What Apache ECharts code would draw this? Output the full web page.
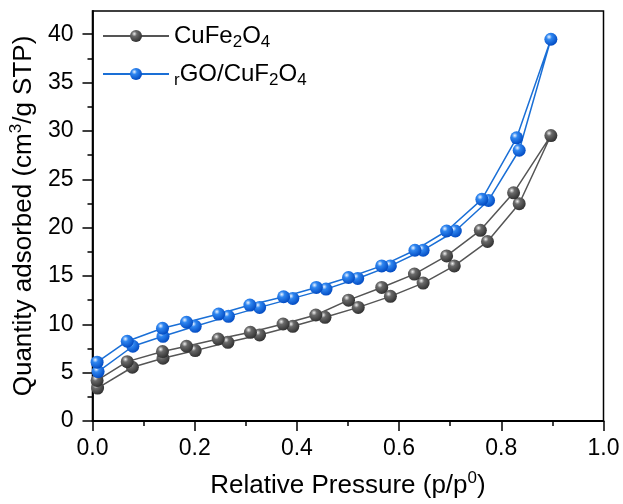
<!DOCTYPE html>
<html>
<head>
<meta charset="utf-8">
<script src="https://cdn.jsdelivr.net/npm/echarts@6/dist/echarts.min.js"></script>
<style>
  html, body { margin: 0; padding: 0; background: #fff; }
  #chart { width: 623px; height: 504px; }
</style>
</head>
<body>
<div id="chart"></div>
<script>
// relative pressure (p/p0) and quantity adsorbed (cm3/g STP)
const cuFeAdsP = [0.010, 0.078, 0.138, 0.201, 0.265, 0.327, 0.392, 0.455, 0.520, 0.583, 0.647, 0.708, 0.773, 0.835, 0.897];
const cuFeAdsQ = [3.40, 5.56, 6.49, 7.28, 8.14, 8.90, 9.79, 10.72, 11.75, 12.89, 14.26, 16.04, 18.56, 22.47, 29.52];
const cuFeDesP = [0.897, 0.824, 0.759, 0.693, 0.630, 0.566, 0.501, 0.437, 0.373, 0.309, 0.246, 0.184, 0.137, 0.068, 0.009];
const cuFeDesQ = [29.52, 23.60, 19.72, 17.07, 15.19, 13.81, 12.50, 10.96, 10.03, 9.17, 8.48, 7.73, 7.18, 6.14, 4.19];

const rgoAdsP = [0.011, 0.079, 0.138, 0.201, 0.266, 0.327, 0.392, 0.457, 0.519, 0.583, 0.647, 0.710, 0.775, 0.835, 0.897];
const rgoAdsQ = [5.11, 7.73, 8.76, 9.79, 10.82, 11.75, 12.68, 13.64, 14.74, 16.04, 17.66, 19.65, 22.81, 28.00, 39.48];
const rgoDesP = [0.897, 0.830, 0.762, 0.693, 0.631, 0.566, 0.501, 0.438, 0.374, 0.308, 0.247, 0.184, 0.137, 0.068, 0.009];
const rgoDesQ = [39.48, 29.28, 22.92, 19.65, 17.66, 16.04, 14.84, 13.81, 12.85, 11.99, 11.06, 10.21, 9.59, 8.25, 6.08];

const seriesNames = ["CuFe2O4", "rGO/CuF2O4"];
const yMajorTicks = [0, 5, 10, 15, 20, 25, 30, 35, 40];
const yMinorTicks = [2.5, 7.5, 12.5, 17.5, 22.5, 27.5, 32.5, 37.5];

const FONT = "Liberation Sans";

function loop(adsP, adsQ, desP, desQ) {
  let pts = [];
  adsP.forEach((p, i) => pts.push([p, adsQ[i]]));
  // desorption starts at the shared top point
  desP.slice(1).forEach((p, i) => pts.push([p, desQ[i + 1]]));
  return pts;
}

function ball(stops) {
  return {
    type: "radial", x: 0.36, y: 0.32, r: 0.72,
    colorStops: [
      { offset: 0, color: stops[0] },
      { offset: 0.3, color: stops[1] },
      { offset: 1, color: stops[2] },
    ],
  };
}

const legendText = {
  "CuFe2O4": "{n|CuFe}{s|2}{n|O}{s|4}",
  "rGO/CuF2O4": "{s|r}{n|GO/CuF}{s|2}{n|O}{s|4}",
};

let myChart = echarts.init(document.getElementById("chart"), null, { renderer: "canvas" });

let option = {
  animation: false,
  backgroundColor: "#fff",
  grid: {
    left: 92,
    right: 19.5,
    top: 11,
    bottom: 81.7,
    show: true,
    borderColor: "#000",
    borderWidth: 1.5,
  },
  legend: {
    data: seriesNames,
    orient: "vertical",
    left: 97,
    top: 19,
    itemWidth: 66,
    itemHeight: 15,
    itemGap: 11,
    formatter: (name) => legendText[name],
    textStyle: {
      color: "#000",
      fontFamily: FONT,
      rich: {
        n: { fontSize: 24, lineHeight: 30, fontFamily: FONT, color: "#000" },
        s: { fontSize: 17, lineHeight: 14, verticalAlign: "bottom", fontFamily: FONT, color: "#000" },
      },
    },
  },
  xAxis: {
    type: "value",
    min: 0,
    max: 1,
    interval: 0.2,
    name: "{t|Relative Pressure (p/p}{p|0}{t|)}",
    nameLocation: "middle",
    nameGap: 49,
    nameTextStyle: {
      color: "#000",
      fontFamily: FONT,
      rich: {
        t: { fontSize: 26, lineHeight: 32, fontFamily: FONT, color: "#000" },
        p: { fontSize: 17, lineHeight: 14, verticalAlign: "top", fontFamily: FONT, color: "#000" },
      },
    },
    axisLine: { show: true, lineStyle: { color: "#000", width: 1.8 } },
    axisTick: { show: true, inside: false, length: 10, lineStyle: { color: "#000", width: 1.5 } },
    minorTick: { show: true, splitNumber: 2, length: 5, lineStyle: { color: "#000", width: 1.5 } },
    splitLine: { show: false },
    axisLabel: {
      color: "#000",
      fontFamily: FONT,
      fontSize: 23,
      margin: 16,
      formatter: (v) => v.toFixed(1),
    },
  },
  yAxis: [
    {
      type: "value",
      min: 0,
      max: 42.4,
      interval: 5,
      name: "{t|Quantity adsorbed (cm}{p|3}{t|/g STP)}",
      nameLocation: "middle",
      nameGap: 50,
      nameRotate: 90,
      nameTextStyle: {
        color: "#000",
        fontFamily: FONT,
        rich: {
          t: { fontSize: 26, lineHeight: 32, fontFamily: FONT, color: "#000" },
          p: { fontSize: 17, lineHeight: 14, verticalAlign: "top", fontFamily: FONT, color: "#000" },
        },
      },
      axisLine: { show: true, lineStyle: { color: "#000", width: 1.8 } },
      axisTick: {
        show: true, inside: false, length: 10, customValues: yMajorTicks,
        lineStyle: { color: "#000", width: 1.5 },
      },
      splitLine: { show: false },
      axisLabel: {
        color: "#000",
        fontFamily: FONT,
        fontSize: 23,
        margin: 19,
        customValues: yMajorTicks,
      },
    },
    {
      // minor ticks only
      type: "value",
      min: 0,
      max: 42.4,
      position: "left",
      axisLine: { show: false },
      axisTick: {
        show: true, inside: false, length: 5, customValues: yMinorTicks,
        lineStyle: { color: "#000", width: 1.5 },
      },
      axisLabel: { show: false },
      splitLine: { show: false },
    },
  ],
  series: [
    {
      name: seriesNames[0],
      type: "line",
      yAxisIndex: 0,
      data: loop(cuFeAdsP, cuFeAdsQ, cuFeDesP, cuFeDesQ),
      symbol: "circle",
      symbolSize: 13,
      showAllSymbol: true,
      lineStyle: { color: "#555555", width: 1.5 },
      itemStyle: { color: ball(["#f0f0f0", "#6a6a6a", "#2e2e2e"]) },
      z: 2,
    },
    {
      name: seriesNames[1],
      type: "line",
      yAxisIndex: 0,
      data: loop(rgoAdsP, rgoAdsQ, rgoDesP, rgoDesQ),
      symbol: "circle",
      symbolSize: 13,
      showAllSymbol: true,
      lineStyle: { color: "#1a6fd6", width: 1.5 },
      itemStyle: { color: ball(["#eef5ff", "#2f86f0", "#0048c0"]) },
      z: 3,
    },
  ],
};

myChart.setOption(option);
</script>
</body>
</html>
